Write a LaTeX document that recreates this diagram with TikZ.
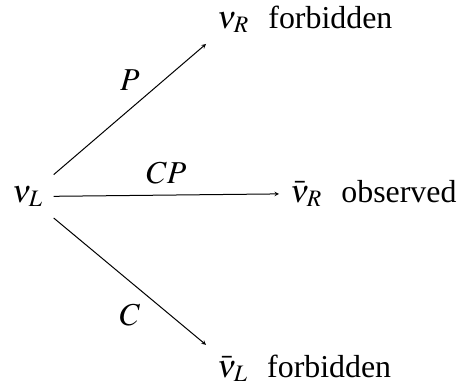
\documentclass[tikz,border=0pt]{standalone}
\usepackage{mathptmx}
\usepackage{fontspec}
\setmainfont{Liberation Serif}
\usetikzlibrary{positioning}

\begin{document}
\begin{tikzpicture}[>=stealth,x=1bp,y=-1bp,line width=1bp,
  font=\fontsize{32}{38}\selectfont,
  every node/.style={inner sep=10.7bp},
  pt/.style={anchor=base west},
  lbl/.style={anchor=base west,inner sep=8bp}]
  \useasboundingbox (0,0) rectangle (457,387);
  \node[pt] (vL) at (1,202) {$\nu_L$};
  \node[pt] (vR) at (206,28) {$\nu_R$};
  \node[pt] (vbR) at (279,202) {$\bar{\nu}_R$};
  \node[pt] (vbL) at (206,377) {$\bar{\nu}_L$};
  \node[lbl] (tR) at (vR.base east) {forbidden};
  \node[lbl] (tbR) at (vbR.base east) {observed};
  \node[lbl] (tbL) at (vbL.base east) {forbidden};
  \draw[->] (vL.north east) -- node[above=8bp]{$P$} (vR.south west);
  \draw[->] (vL.east) -- node[above]{$CP$} (vbR.west);
  \draw[->] (vL.south east) -- node[below=11bp]{$C$} (vbL.north west);
\end{tikzpicture}
\end{document}
